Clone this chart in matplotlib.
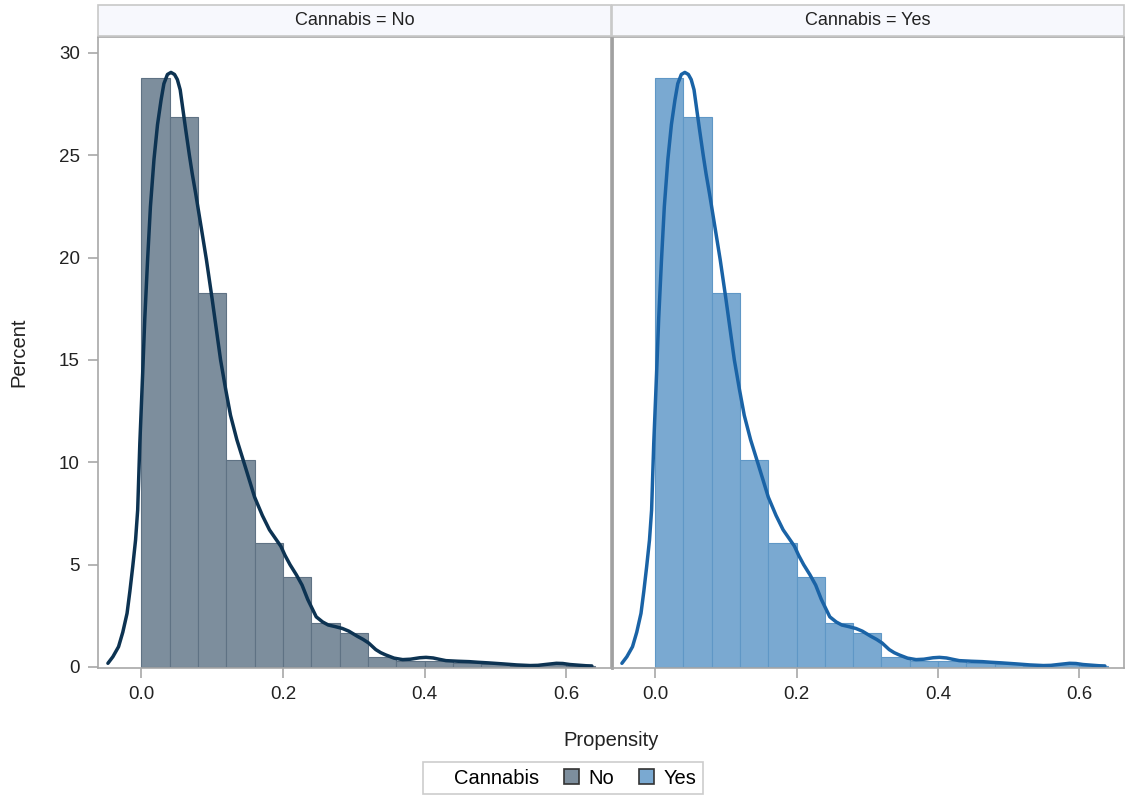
import matplotlib
matplotlib.use("Agg")
import matplotlib.pyplot as plt
from matplotlib.patches import Patch, Rectangle

plt.rcParams['font.family'] = ['Liberation Sans', 'DejaVu Sans']

# histogram: left edge of each 0.04-wide bin and percent in it
bin_left = [0.00, 0.04, 0.08, 0.12, 0.16, 0.20, 0.24, 0.28, 0.32, 0.36,
            0.40, 0.44, 0.48, 0.52, 0.56, 0.60]
pct = [28.8, 26.85, 18.25, 10.1, 6.04, 4.4, 2.13, 1.64, 0.5, 0.3,
       0.3, 0.2, 0.15, 0.05, 0.15, 0.05]
bin_w = 0.04

# kernel density curve
kde_x = [-0.047, -0.040, -0.032, -0.026, -0.020, -0.016, -0.012, -0.008, -0.005,
         -0.002, 0.002, 0.005, 0.009, 0.013, 0.018, 0.023, 0.028, 0.032, 0.037,
         0.042, 0.047, 0.051, 0.055, 0.059, 0.063, 0.068, 0.072, 0.077, 0.085,
         0.092, 0.100, 0.112, 0.119, 0.126, 0.135, 0.144, 0.160, 0.171, 0.181,
         0.191, 0.197, 0.203, 0.210, 0.219, 0.227, 0.235, 0.247, 0.256, 0.264,
         0.274, 0.284, 0.293, 0.305, 0.313, 0.321, 0.331, 0.338, 0.345, 0.357,
         0.369, 0.380, 0.393, 0.402, 0.412, 0.420, 0.430, 0.447, 0.463, 0.475,
         0.490, 0.511, 0.530, 0.549, 0.560, 0.570, 0.586, 0.595, 0.605, 0.620,
         0.628, 0.636]
kde_y = [0.18, 0.5, 0.99, 1.7, 2.62, 3.7, 4.9, 6.2, 7.67,
         10.9, 14.3, 17.0, 19.9, 22.5, 24.8, 26.5, 27.7, 28.5, 28.95,
         29.05, 28.95, 28.7, 28.2, 27.2, 26.2, 25.0, 24.1, 23.1, 21.4,
         19.9, 18.0, 15.0, 13.6, 12.3, 11.1, 10.1, 8.3, 7.4, 6.7,
         6.2, 5.9, 5.45, 5.0, 4.5, 4.0, 3.3, 2.45, 2.2, 2.05,
         1.97, 1.88, 1.75, 1.5, 1.35, 1.17, 0.85, 0.7, 0.59, 0.43,
         0.36, 0.38, 0.45, 0.47, 0.44, 0.38, 0.31, 0.28, 0.26, 0.23,
         0.2, 0.15, 0.1, 0.07, 0.08, 0.12, 0.18, 0.17, 0.12, 0.08,
         0.06, 0.05]

groups = ['No', 'Yes']
bar_col = {'No': '#7D8E9D', 'Yes': '#7AA9D1'}
edge_col = {'No': '#5f7284', 'Yes': '#5f97c6'}
line_col = {'No': '#0D3352', 'Yes': '#1A63A6'}

fig = plt.figure(figsize=(11.25, 7.96), dpi=100)
W, H = 1125, 796
frame = '#A8A8A8'

axes = []
panels = [(98, 611), (612, 1124)]
for i, g in enumerate(groups):
    x0, x1 = panels[i]
    ax = fig.add_axes([x0 / W, (H - 668) / H, (x1 - x0) / W, (668 - 37) / H])
    ax.bar(bin_left, pct, width=bin_w, align='edge', color=bar_col[g],
           edgecolor=edge_col[g], linewidth=0.8)
    ax.plot(kde_x, kde_y, color=line_col[g], lw=2.5, solid_capstyle='round',
            solid_joinstyle='round')
    ax.set_xlim(-0.061, 0.663)
    ax.set_ylim(-0.05, 30.78)
    ax.set_xticks([0.0, 0.2, 0.4, 0.6])
    ax.set_xticklabels(['0.0', '0.2', '0.4', '0.6'])
    ax.set_yticks([0, 5, 10, 15, 20, 25, 30])
    for s in ax.spines.values():
        s.set_color(frame)
        s.set_linewidth(1.2)
    ax.tick_params(colors=frame, labelcolor='#222222', labelsize=13.5,
                   length=7, width=1.2, pad=6)
    if i == 1:
        ax.tick_params(axis='y', left=False, labelleft=False)
        ax.spines['left'].set_color('#A0A0A0')
        ax.spines['left'].set_linewidth(2)
    # header strip
    fig.patches.append(Rectangle((x0 / W, (H - 36) / H), (x1 - x0) / W, 31 / H,
                                 transform=fig.transFigure, facecolor='#F7F8FD',
                                 edgecolor='#C8C8C8', lw=1.2))
    fig.text((x0 + x1) / 2 / W, (H - 20.5) / H, 'Cannabis = ' + g,
             ha='center', va='center', fontsize=13, color='#222222')
    axes.append(ax)

axes[0].set_ylabel('Percent', fontsize=14.5, color='#222222', labelpad=22)
fig.text(611 / W, (H - 740) / H, 'Propensity', ha='center', va='center',
         fontsize=14.5, color='#222222')

handles = [Patch(visible=False, label='Cannabis')]
for g in groups:
    handles.append(Patch(facecolor=bar_col[g], edgecolor='#333333', lw=1.2, label=g))
leg = fig.legend(handles=handles, ncol=3, loc='center', bbox_to_anchor=(563 / W, (H - 778) / H),
                 fontsize=14.5, frameon=True, fancybox=False, handlelength=0.75,
                 handleheight=0.75, handletextpad=0.5, columnspacing=1.2,
                 borderpad=0.3, edgecolor='#C0C0C0')
leg.get_frame().set_linewidth(1.2)

fig.savefig('out.png', dpi=100)
